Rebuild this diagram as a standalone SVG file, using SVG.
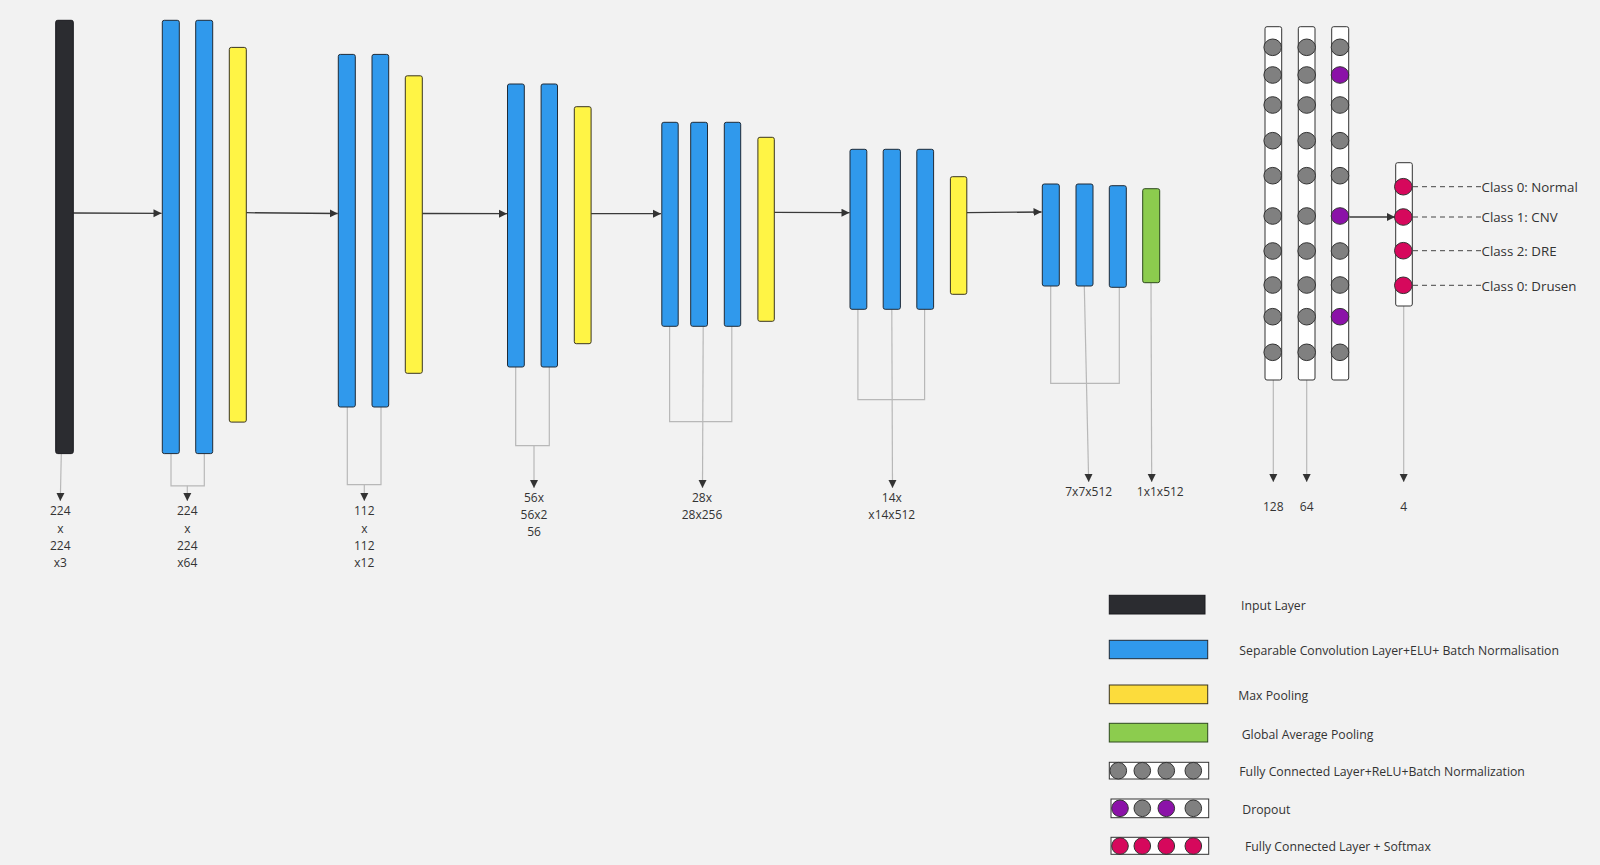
<svg xmlns="http://www.w3.org/2000/svg" width="1600" height="865" viewBox="0 0 1600 865">
<defs>
<style>
.bg{fill:#f2f2f2}
.inp{fill:#2b2c30;stroke:#1a1a1e;stroke-width:1}
.conv{fill:#3099ec;stroke:#1f2b38;stroke-width:1}
.pool{fill:#fff445;stroke:#3a3520;stroke-width:1}
.lpool{fill:#fcdc3c;stroke:#3a3520;stroke-width:1}
.gap{fill:#8ccc4e;stroke:#2e4a1e;stroke-width:1}
.col{fill:#ffffff;stroke:#333;stroke-width:1}
.g{fill:#808080;stroke:#333;stroke-width:1}
.p{fill:#8b12a8;stroke:#333;stroke-width:1}
.r{fill:#d6085c;stroke:#333;stroke-width:1}
.main{fill:none;stroke:#3a3a3a;stroke-width:1.3}
.thin{fill:none;stroke:#b8b8b8;stroke-width:1.2}
.dash{fill:none;stroke:#444;stroke-width:1;stroke-dasharray:5,4}
.lbl{font-family:"Open Sans","Noto Sans","Liberation Sans",sans-serif;font-size:12px;fill:#333;text-anchor:middle;dominant-baseline:central}
.cls{font-family:"Open Sans","Noto Sans","Liberation Sans",sans-serif;font-size:13.3px;fill:#333;dominant-baseline:central}
.leg{font-family:"Open Sans","Noto Sans","Liberation Sans",sans-serif;font-size:12.25px;fill:#333;dominant-baseline:central}
</style>
<marker id="ah" markerUnits="userSpaceOnUse" markerWidth="9" markerHeight="9" refX="8" refY="4" orient="auto" viewBox="0 0 9 8">
<path d="M0,0 L8,4 L0,8 z" fill="#333"/>
</marker>
</defs>
<rect class="bg" x="0" y="0" width="1600" height="865"/>

<g id="connectors">
<path class="main" d="M73.3,213 L161.5,213.3" marker-end="url(#ah)"/>
<path class="main" d="M246.3,212.7 L337.7,213.5" marker-end="url(#ah)"/>
<path class="main" d="M422.3,213.5 L507,213.7" marker-end="url(#ah)"/>
<path class="main" d="M591.1,213.7 L661,213.7" marker-end="url(#ah)"/>
<path class="main" d="M774.3,212.3 L849.5,212.7" marker-end="url(#ah)"/>
<path class="main" d="M966.8,212.7 L1041.5,212" marker-end="url(#ah)"/>
<path class="main" d="M1349.3,217 L1395,217" marker-end="url(#ah)"/>

<path class="thin" d="M61.3,453.6 L60.3,501" marker-end="url(#ah)"/>
<path class="thin" d="M171,453.6 V485.8 H204.3 V453.6"/>
<path class="thin" d="M187.3,485.8 V501" marker-end="url(#ah)"/>
<path class="thin" d="M347.3,407 V484.6 H381 V407"/>
<path class="thin" d="M364.3,484.6 V501" marker-end="url(#ah)"/>
<path class="thin" d="M515.7,367 V445.7 H549.3 V367"/>
<path class="thin" d="M534,445.7 V488" marker-end="url(#ah)"/>
<path class="thin" d="M669.6,326.3 V421.7 H731.8 V326.3"/>
<path class="thin" d="M703.2,326.3 L702.5,488" marker-end="url(#ah)"/>
<path class="thin" d="M857.9,309.3 V399.7 H924.6 V309.3"/>
<path class="thin" d="M891.8,309.3 L892.5,488" marker-end="url(#ah)"/>
<path class="thin" d="M1050.7,286 V383.3 H1119.3 V287.3"/>
<path class="thin" d="M1084.3,286 L1088.7,482" marker-end="url(#ah)"/>
<path class="thin" d="M1151,282.7 L1151.7,482" marker-end="url(#ah)"/>
<path class="thin" d="M1273.3,380 V482" marker-end="url(#ah)"/>
<path class="thin" d="M1306.7,380 V482" marker-end="url(#ah)"/>
<path class="thin" d="M1403.7,306 V482" marker-end="url(#ah)"/>

<path class="dash" d="M1413,186.7 H1481"/>
<path class="dash" d="M1413,217 H1481"/>
<path class="dash" d="M1413,250.7 H1481"/>
<path class="dash" d="M1413,285.3 H1481"/>
</g>

<g id="input">
<rect class="inp" x="55.7" y="20.3" width="17.6" height="433.3" rx="2"/>
</g>
<g id="block1">
<rect class="conv" x="162.3" y="20.3" width="17" height="433.3" rx="2"/>
<rect class="conv" x="195.7" y="20.3" width="17" height="433.3" rx="2"/>
<rect class="pool" x="229.3" y="47.4" width="17" height="374.7" rx="2"/>
</g>
<g id="block2">
<rect class="conv" x="338.3" y="54.4" width="17" height="352.6" rx="2"/>
<rect class="conv" x="372" y="54.4" width="16.7" height="352.6" rx="2"/>
<rect class="pool" x="405.3" y="75.8" width="17" height="297.5" rx="2"/>
</g>
<g id="block3">
<rect class="conv" x="507.5" y="84" width="16.8" height="283" rx="2"/>
<rect class="conv" x="541.1" y="84" width="16.4" height="283" rx="2"/>
<rect class="pool" x="574.3" y="106.7" width="16.8" height="237" rx="2"/>
</g>
<g id="block4">
<rect class="conv" x="661.8" y="122.3" width="16.4" height="204" rx="2"/>
<rect class="conv" x="690.7" y="122.3" width="16.8" height="204" rx="2"/>
<rect class="conv" x="724.3" y="122.3" width="16.4" height="204" rx="2"/>
<rect class="pool" x="757.9" y="137.3" width="16.4" height="184" rx="2"/>
</g>
<g id="block5">
<rect class="conv" x="850" y="149.3" width="16.8" height="160" rx="2"/>
<rect class="conv" x="883.2" y="149.3" width="17.2" height="160" rx="2"/>
<rect class="conv" x="916.8" y="149.3" width="16.8" height="160" rx="2"/>
<rect class="pool" x="950.4" y="176.7" width="16.4" height="117.6" rx="2"/>
</g>
<g id="block6">
<rect class="conv" x="1042.3" y="184" width="17" height="102" rx="2"/>
<rect class="conv" x="1076" y="184" width="17" height="102" rx="2"/>
<rect class="conv" x="1109.3" y="185.7" width="17" height="101.6" rx="2"/>
<rect class="gap" x="1142.7" y="188.7" width="17" height="94" rx="2"/>
</g>

<g id="fc1">
<rect class="col" x="1265" y="26.7" width="16.7" height="353.3" rx="2"/>
<ellipse class="g" cx="1272.7" cy="47.3" rx="8.8" ry="8.3"/>
<ellipse class="g" cx="1272.7" cy="75" rx="8.8" ry="8.3"/>
<ellipse class="g" cx="1272.7" cy="105" rx="8.8" ry="8.3"/>
<ellipse class="g" cx="1272.7" cy="140.7" rx="8.8" ry="8.3"/>
<ellipse class="g" cx="1272.7" cy="175.7" rx="8.8" ry="8.3"/>
<ellipse class="g" cx="1272.7" cy="216" rx="8.8" ry="8.3"/>
<ellipse class="g" cx="1272.7" cy="251" rx="8.8" ry="8.3"/>
<ellipse class="g" cx="1272.7" cy="285" rx="8.8" ry="8.3"/>
<ellipse class="g" cx="1272.7" cy="316.7" rx="8.8" ry="8.3"/>
<ellipse class="g" cx="1272.7" cy="352.3" rx="8.8" ry="8.3"/>
</g>
<g id="fc2">
<rect class="col" x="1298.3" y="26.7" width="16.7" height="353.3" rx="2"/>
<ellipse class="g" cx="1306.7" cy="47.3" rx="8.8" ry="8.3"/>
<ellipse class="g" cx="1306.7" cy="75" rx="8.8" ry="8.3"/>
<ellipse class="g" cx="1306.7" cy="105" rx="8.8" ry="8.3"/>
<ellipse class="g" cx="1306.7" cy="140.7" rx="8.8" ry="8.3"/>
<ellipse class="g" cx="1306.7" cy="175.7" rx="8.8" ry="8.3"/>
<ellipse class="g" cx="1306.7" cy="216" rx="8.8" ry="8.3"/>
<ellipse class="g" cx="1306.7" cy="251" rx="8.8" ry="8.3"/>
<ellipse class="g" cx="1306.7" cy="285" rx="8.8" ry="8.3"/>
<ellipse class="g" cx="1306.7" cy="316.7" rx="8.8" ry="8.3"/>
<ellipse class="g" cx="1306.7" cy="352.3" rx="8.8" ry="8.3"/>
</g>
<g id="dropout">
<rect class="col" x="1331.7" y="26.7" width="17" height="353.3" rx="2"/>
<ellipse class="g" cx="1340" cy="47.3" rx="8.8" ry="8.3"/>
<ellipse class="p" cx="1340" cy="75" rx="8.8" ry="8.3"/>
<ellipse class="g" cx="1340" cy="105" rx="8.8" ry="8.3"/>
<ellipse class="g" cx="1340" cy="140.7" rx="8.8" ry="8.3"/>
<ellipse class="g" cx="1340" cy="175.7" rx="8.8" ry="8.3"/>
<ellipse class="p" cx="1340" cy="216" rx="8.8" ry="8.3"/>
<ellipse class="g" cx="1340" cy="251" rx="8.8" ry="8.3"/>
<ellipse class="g" cx="1340" cy="285" rx="8.8" ry="8.3"/>
<ellipse class="p" cx="1340" cy="316.7" rx="8.8" ry="8.3"/>
<ellipse class="g" cx="1340" cy="352.3" rx="8.8" ry="8.3"/>
</g>
<g id="softmax">
<rect class="col" x="1395.7" y="162.7" width="16.6" height="143.3" rx="2"/>
<ellipse class="r" cx="1403.3" cy="186.7" rx="8.8" ry="8.3"/>
<ellipse class="r" cx="1403.3" cy="217" rx="8.8" ry="8.3"/>
<ellipse class="r" cx="1403.3" cy="250.7" rx="8.8" ry="8.3"/>
<ellipse class="r" cx="1403.3" cy="285.3" rx="8.8" ry="8.3"/>
</g>

<g id="labels">
<text class="lbl" x="60.3" y="510.5">224</text>
<text class="lbl" x="60.3" y="528">x</text>
<text class="lbl" x="60.3" y="545.7">224</text>
<text class="lbl" x="60.3" y="562.3">x3</text>
<text class="lbl" x="187.3" y="510.5">224</text>
<text class="lbl" x="187.3" y="528">x</text>
<text class="lbl" x="187.3" y="545.7">224</text>
<text class="lbl" x="187.3" y="562.3">x64</text>
<text class="lbl" x="364.3" y="510.5">112</text>
<text class="lbl" x="364.3" y="528">x</text>
<text class="lbl" x="364.3" y="545.7">112</text>
<text class="lbl" x="364.3" y="562.3">x12</text>
<text class="lbl" x="534" y="497.7">56x</text>
<text class="lbl" x="534" y="514.3">56x2</text>
<text class="lbl" x="534" y="531.7">56</text>
<text class="lbl" x="702" y="497.7">28x</text>
<text class="lbl" x="702" y="514.3">28x256</text>
<text class="lbl" x="891.8" y="497.7">14x</text>
<text class="lbl" x="891.8" y="514.3">x14x512</text>
<text class="lbl" x="1088.7" y="491.7">7x7x512</text>
<text class="lbl" x="1160.3" y="491.7">1x1x512</text>
<text class="lbl" x="1273.3" y="506">128</text>
<text class="lbl" x="1306.7" y="506">64</text>
<text class="lbl" x="1403.7" y="506">4</text>
<text class="cls" x="1481.5" y="186.7">Class 0: Normal</text>
<text class="cls" x="1481.5" y="217">Class 1: CNV</text>
<text class="cls" x="1481.5" y="251">Class 2: DRE</text>
<text class="cls" x="1481.5" y="286">Class 0: Drusen</text>
</g>

<g id="legend">
<rect class="inp" x="1109.3" y="595.3" width="95.7" height="18.7"/>
<text class="leg" x="1241" y="605.7">Input Layer</text>
<rect class="conv" x="1109.3" y="640.3" width="98.4" height="18.4"/>
<text class="leg" x="1239.3" y="650">Separable Convolution Layer+ELU+ Batch Normalisation</text>
<rect class="lpool" x="1109.3" y="685" width="98.4" height="18.7"/>
<text class="leg" x="1238.3" y="695">Max Pooling</text>
<rect class="gap" x="1109.3" y="723.3" width="98.4" height="18.7"/>
<text class="leg" x="1241.7" y="734">Global Average Pooling</text>
<rect class="col" x="1109.3" y="762.3" width="99.4" height="16.7"/>
<circle class="g" cx="1118.3" cy="770.7" r="8.3"/>
<circle class="g" cx="1142.3" cy="770.7" r="8.3"/>
<circle class="g" cx="1166.3" cy="770.7" r="8.3"/>
<circle class="g" cx="1193.3" cy="770.7" r="8.3"/>
<text class="leg" x="1239.3" y="771.3">Fully Connected Layer+ReLU+Batch Normalization</text>
<rect class="col" x="1111" y="799" width="97.7" height="18.7"/>
<circle class="p" cx="1120" cy="808.3" r="8.3"/>
<circle class="g" cx="1142.3" cy="808.3" r="8.3"/>
<circle class="p" cx="1166.3" cy="808.3" r="8.3"/>
<circle class="g" cx="1193.3" cy="808.3" r="8.3"/>
<text class="leg" x="1242.3" y="809">Dropout</text>
<rect class="col" x="1111" y="837.3" width="97.7" height="17"/>
<circle class="r" cx="1120" cy="846" r="8.3"/>
<circle class="r" cx="1142.3" cy="846" r="8.3"/>
<circle class="r" cx="1166.3" cy="846" r="8.3"/>
<circle class="r" cx="1193.3" cy="846" r="8.3"/>
<text class="leg" x="1245" y="846.7">Fully Connected Layer + Softmax</text>
</g>
</svg>
